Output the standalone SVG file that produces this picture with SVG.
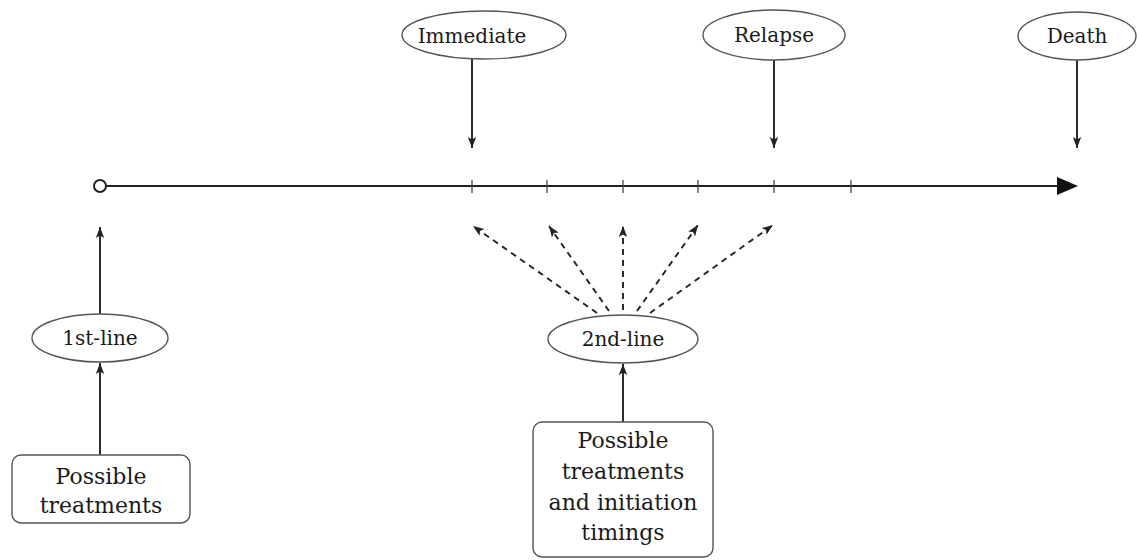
<svg xmlns="http://www.w3.org/2000/svg" width="1139" height="560" viewBox="0 0 1139 560">
  <style>
    .node ellipse { fill: #fff; stroke: #555; stroke-width: 1.4; }
    .node rect { fill: #fff; stroke: #555; stroke-width: 1.4; }
    .lbl { font-family: "DejaVu Serif", "Liberation Serif", serif; font-size: 20px; fill: #1a1a1a; text-anchor: middle; }
    .box { font-family: "DejaVu Serif", "Liberation Serif", serif; font-size: 22px; fill: #1a1a1a; text-anchor: middle; }
    .solid { stroke: #222; stroke-width: 1.9; fill: none; marker-end: url(#ah); }
    .dash { stroke: #222; stroke-width: 1.9; fill: none; stroke-dasharray: 6 5; marker-end: url(#ah); }
    .tick { stroke: #444; stroke-width: 1.3; }
  </style>
  <defs>
    <marker id="ah" markerUnits="userSpaceOnUse" markerWidth="12" markerHeight="10" viewBox="0 0 12 10" refX="11" refY="5" orient="auto">
      <path d="M0,0.8 L11,5 L0,9.2 L2.5,5 Z" fill="#222"/>
    </marker>
  </defs>

  <g id="timeline">
    <line x1="106" y1="186" x2="1060" y2="186" stroke="#222" stroke-width="2.2"/>
    <polygon points="1057,177 1078,186 1057,195" fill="#111"/>
    <circle cx="100" cy="186" r="6" fill="#fff" stroke="#222" stroke-width="2"/>
    <line class="tick" x1="472" y1="180" x2="472" y2="193"/>
    <line class="tick" x1="547" y1="180" x2="547" y2="193"/>
    <line class="tick" x1="623" y1="180" x2="623" y2="193"/>
    <line class="tick" x1="698" y1="180" x2="698" y2="193"/>
    <line class="tick" x1="774" y1="180" x2="774" y2="193"/>
    <line class="tick" x1="851" y1="180" x2="851" y2="193"/>
  </g>

  <g id="connectors">
    <line class="solid" x1="472" y1="59" x2="472" y2="148"/>
    <line class="solid" x1="774" y1="60" x2="774" y2="148"/>
    <line class="solid" x1="1077" y1="60" x2="1077" y2="148"/>
    <line class="solid" x1="100" y1="314" x2="100" y2="227"/>
    <line class="solid" x1="100" y1="455" x2="100" y2="363"/>
    <line class="solid" x1="623" y1="422" x2="623" y2="364"/>
    <line class="dash" x1="597" y1="313" x2="473" y2="226"/>
    <line class="dash" x1="609" y1="311" x2="549" y2="226"/>
    <line class="dash" x1="623" y1="310" x2="623" y2="226"/>
    <line class="dash" x1="637" y1="311" x2="698" y2="225"/>
    <line class="dash" x1="650" y1="313" x2="773" y2="225"/>
  </g>

  <g id="immediate" class="node">
    <ellipse cx="484" cy="35" rx="82" ry="24"/>
    <text class="lbl" x="472" y="43">Immediate</text>
  </g>
  <g id="relapse" class="node">
    <ellipse cx="774" cy="35" rx="71" ry="25"/>
    <text class="lbl" x="774" y="42">Relapse</text>
  </g>
  <g id="death" class="node">
    <ellipse cx="1077" cy="36" rx="59" ry="24"/>
    <text class="lbl" x="1077" y="43">Death</text>
  </g>
  <g id="first-line" class="node">
    <ellipse cx="100" cy="338" rx="68" ry="24"/>
    <text class="lbl" x="100" y="345">1st-line</text>
  </g>
  <g id="second-line" class="node">
    <ellipse cx="623" cy="339" rx="75" ry="24"/>
    <text class="lbl" x="623" y="346">2nd-line</text>
  </g>
  <g id="treatments-1" class="node">
    <rect x="12" y="455" width="178" height="68" rx="9" ry="9"/>
    <text class="box" x="101" y="484">Possible</text>
    <text class="box" x="101" y="513">treatments</text>
  </g>
  <g id="treatments-2" class="node">
    <rect x="533" y="422" width="180" height="135" rx="9" ry="9"/>
    <text class="box" x="623" y="448">Possible</text>
    <text class="box" x="623" y="479">treatments</text>
    <text class="box" x="623" y="510">and initiation</text>
    <text class="box" x="623" y="540">timings</text>
  </g>
</svg>
